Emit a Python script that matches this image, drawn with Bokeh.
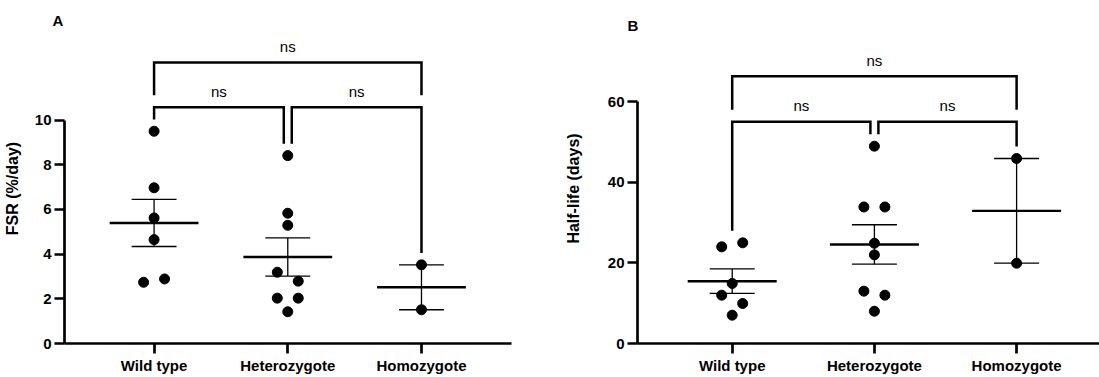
import numpy as np
from bokeh.plotting import figure
from bokeh.layouts import row
from bokeh.models import FixedTicker, Range1d
from bokeh.embed import file_html
from bokeh.resources import INLINE
from bokeh.core.properties import value

# ---------------- data ----------------
groups = ["Wild type", "Heterozygote", "Homozygote"]

fsr_wild = [9.50, 6.97, 5.62, 4.65, 2.74, 2.89]
fsr_het = [8.41, 5.83, 5.29, 3.19, 2.79, 2.03, 2.03, 1.42]
fsr_homo = [3.52, 1.51]

hl_wild = [24.0, 25.0, 14.9, 12.0, 9.93, 7.03]
hl_het = [49.0, 33.9, 33.9, 24.9, 22.0, 13.0, 12.0, 8.02]
hl_homo = [45.94, 19.94]

fsr_ticks = [0, 2, 4, 6, 8, 10]
hl_ticks = [0, 20, 40, 60]

comparisons = [(0, 1, "ns"), (1, 2, "ns"), (0, 2, "ns")]

# ---------------- layout (scatter slots, not data) ----------------
slots_a = [[0, 0, 0, 0, -1, 1], [0, 0, 0, -1, 1, -1, 1, 0], [0, 0]]
slots_b = [[-1, 1, 0, -1, 1, 0], [0, -1, 1, 0, 0, -1, 1, 0], [0, 0]]

FONT = "Liberation Sans"


def panel(letter, series, slots, ylabel, ticks, ppu_x, ppu_y, x_start,
          width, height, b_left, b_right, b_top, b_bottom, label_standoff,
          title_offset, title_standoff):
    frame_w = width - b_left - b_right
    frame_h = height - b_top - b_bottom
    x_end = x_start + frame_w / ppu_x
    y_end = frame_h / ppu_y
    p = figure(width=width, height=height,
               min_border_left=b_left, min_border_right=b_right,
               min_border_top=b_top, min_border_bottom=b_bottom,
               x_range=Range1d(x_start, x_end), y_range=Range1d(0, y_end),
               output_backend="svg", toolbar_location=None,
               background_fill_color="white", border_fill_color="white")
    p.outline_line_color = None
    p.grid.visible = False

    p.title.text = letter
    p.title.text_font = FONT
    p.title.text_font_size = "15px"
    p.title.text_font_style = "bold"
    p.title.text_color = "black"
    p.title.align = "left"
    p.title.offset = title_offset
    p.title.standoff = title_standoff

    # axes
    for ax in (p.xaxis[0], p.yaxis[0]):
        ax.axis_line_width = 2.7
        ax.axis_line_color = "black"
        ax.major_tick_line_width = 2.7
        ax.major_tick_line_color = "black"
        ax.major_tick_out = 10
        ax.major_tick_in = 0
        ax.minor_tick_line_color = None
        ax.major_label_text_font = FONT
        ax.major_label_text_font_size = "15px"
        ax.major_label_text_font_style = "bold"
        ax.major_label_text_color = "black"
        ax.major_label_standoff = 3
    p.xaxis.ticker = FixedTicker(ticks=list(range(len(groups))))
    p.xaxis.major_label_overrides = {i: g for i, g in enumerate(groups)}
    p.yaxis.ticker = FixedTicker(ticks=ticks)
    p.yaxis.bounds = (ticks[0], ticks[-1])
    p.yaxis.axis_label = ylabel
    p.yaxis.axis_label_text_font = FONT
    p.yaxis.axis_label_text_font_size = "16px"
    p.yaxis.axis_label_text_font_style = "bold"
    p.yaxis.axis_label_text_color = "black"
    p.yaxis.axis_label_standoff = label_standoff

    jit = 10.5 / ppu_x
    xs, ys = [], []
    for gi, (vals, sl) in enumerate(zip(series, slots)):
        for v, s in zip(vals, sl):
            xs.append(gi + s * jit)
            ys.append(v)

    # mean and SEM
    means = [float(np.mean(v)) for v in series]
    sems = [float(np.std(v, ddof=1) / np.sqrt(len(v))) for v in series]
    gx = list(range(len(series)))
    mw = 44.5 / ppu_x
    cw = 22.5 / ppu_x
    p.segment(x0=[g - mw for g in gx], x1=[g + mw for g in gx], y0=means, y1=means,
              line_color="black", line_width=2.4)
    lo = [m - s for m, s in zip(means, sems)]
    hi = [m + s for m, s in zip(means, sems)]
    p.segment(x0=gx, x1=gx, y0=lo, y1=hi, line_color="black", line_width=1.3)
    p.segment(x0=[g - cw for g in gx], x1=[g + cw for g in gx], y0=hi, y1=hi,
              line_color="black", line_width=1.3)
    p.segment(x0=[g - cw for g in gx], x1=[g + cw for g in gx], y0=lo, y1=lo,
              line_color="black", line_width=1.3)

    p.scatter(xs, ys, size=10, marker="circle", fill_color="black", line_color="black")

    # significance brackets
    gap = 12 / ppu_y
    tops = [max(v) for v in series]
    lower_h = max(tops) + 24.5 / ppu_y
    upper_h = lower_h + 45.5 / ppu_y
    split = 4 / ppu_x
    bx, by, tx, ty, tt = [], [], [], [], []
    for a, b, lab in comparisons:
        if b - a == 1:
            xa = a + (split if a == 1 else 0)
            xb = b - (split if b == 1 else 0)
            ya = tops[a] + gap
            yb = tops[b] + gap
            h = lower_h
        else:
            xa, xb = a, b
            ya = yb = lower_h + gap
            h = upper_h
        bx.append([xa, xa, xb, xb])
        by.append([ya, h, h, yb])
        tx.append((xa + xb) / 2)
        ty.append(h + 16 / ppu_y)
        tt.append(lab)
    p.multi_line(bx, by, line_color="black", line_width=2.5, line_join="miter")
    p.text(tx, ty, text=tt, text_align="center", text_baseline="middle",
           text_font=value(FONT), text_font_size="15px", text_color="black")
    return p


pa = panel("A", [fsr_wild, fsr_het, fsr_homo], slots_a, "FSR (%/day)", fsr_ticks,
           ppu_x=134.0, ppu_y=22.7, x_start=-0.67, width=540, height=377,
           b_left=63, b_right=29, b_top=30, b_bottom=32, label_standoff=11,
           title_offset=-12, title_standoff=9)
pb = panel("B", [hl_wild, hl_het, hl_homo], slots_b, "Half-life (days)", hl_ticks,
           ppu_x=142.2, ppu_y=4.027, x_start=-0.666, width=559, height=377,
           b_left=97, b_right=0, b_top=33, b_bottom=34, label_standoff=23,
           title_offset=-10, title_standoff=0)

layout = row(pa, pb)
open("out.html", "w").write(file_html(layout, INLINE))
